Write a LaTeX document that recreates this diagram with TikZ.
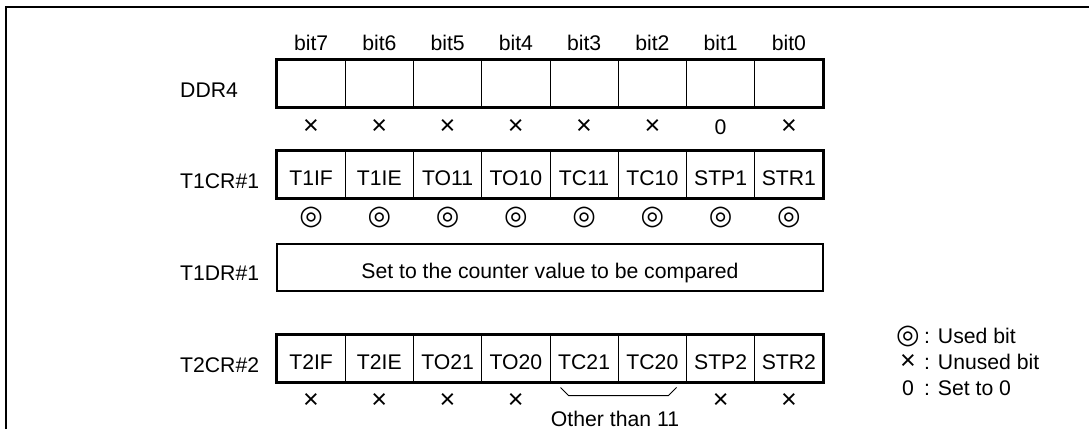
\documentclass[tikz,border=0pt]{standalone}
\usepackage{fontspec}
\setmainfont{Liberation Sans}
\newfontfamily\dejavu{DejaVu Sans}
\usetikzlibrary{calc}
\begin{document}
\begin{tikzpicture}[x=1pt,y=-1pt,
  every node/.style={font=\fontsize{21.2}{24}\selectfont, inner sep=0pt},
  cell/.style={draw, line width=1pt, minimum width=68.25pt, minimum height=47pt, text height=22pt, text depth=0pt},
  outer/.style={line width=2.6pt},
  regname/.style={anchor=base west},
  bitlbl/.style={anchor=base},
  usedsym/.style={font=\dejavu\fontsize{27}{28}\selectfont},
  unusedsym/.style={font=\fontsize{27}{28}\selectfont}]
\useasboundingbox (0,0) rectangle (1089,429);
% frame (cropped on right and bottom)
\draw[line width=2pt] (6,429) -- (6,7) -- (1089,7);

% bit labels
\foreach \b [count=\i from 0] in {7,6,5,4,3,2,1,0}
  \node[bitlbl] (bl\i) at ({277+68.25*(\i+0.5)}, 50) {bit\b};

% DDR4
\node[regname] (nddr) at (180,97) {DDR4};
\foreach \i in {0,...,7}
  \node[cell] (d\i) at ({277+68.25*(\i+0.5)}, 83.5) {};
\draw[outer] (d0.north west) rectangle (d7.south east);
\foreach \i in {0,1,2,3,4,5,7}
  \node[unusedsym] (xd\i) at ({277+68.25*(\i+0.5)}, 127) {×};
\node (zd6) at ({277+68.25*6.5}, 127) {0};

% T1CR#1
\node[regname] (nt1cr) at (180,188) {T1CR\#1};
\foreach \t [count=\i from 0] in {T1IF,T1IE,TO11,TO10,TC11,TC10,STP1,STR1}
  \node[cell] (a\i) at ({277+68.25*(\i+0.5)}, 174.5) {\t};
\draw[outer] (a0.north west) rectangle (a7.south east);
\foreach \i in {0,...,7}
  \node[usedsym] (ua\i) at ({277+68.25*(\i+0.5)}, 217) {◎};

% T1DR#1
\node[regname] (nt1dr) at (180,280) {T1DR\#1};
\node[draw, outer, minimum width=546pt, minimum height=47pt, text height=22pt, text depth=0pt] (t1dr) at (550,267.5) {Set to the counter value to be compared};

% T2CR#2
\node[regname] (nt2cr) at (180,372) {T2CR\#2};
\foreach \t [count=\i from 0] in {T2IF,T2IE,TO21,TO20,TC21,TC20,STP2,STR2}
  \node[cell] (b\i) at ({277+68.25*(\i+0.5)}, 358.5) {\t};
\draw[outer] (b0.north west) rectangle (b7.south east);
\foreach \i in {0,1,2,3,6,7}
  \node[unusedsym] (xb\i) at ({277+68.25*(\i+0.5)}, 401) {×};
\draw[line width=1pt] ($(b4.south west)+(11,5)$) coordinate (br1) -- ++(8,8) -- ($(b5.south east)+(-18.5,13)$) -- ($(b5.south east)+(-10.5,5)$) coordinate (br2);
\node[anchor=base] (other) at (615,426) {Other than 11};

% legend
\node[usedsym] (l1s) at (908,336) {◎};
\node[anchor=base west] (l1t) at (924,343) {: Used bit};
\node[unusedsym] (l2s) at (908,362) {×};
\node[anchor=base west] (l2t) at (924,369) {: Unused bit};
\node[anchor=base] (l3s) at (908,395) {0};
\node[anchor=base west] (l3t) at (924,395) {: Set to 0};
\end{tikzpicture}
\end{document}
